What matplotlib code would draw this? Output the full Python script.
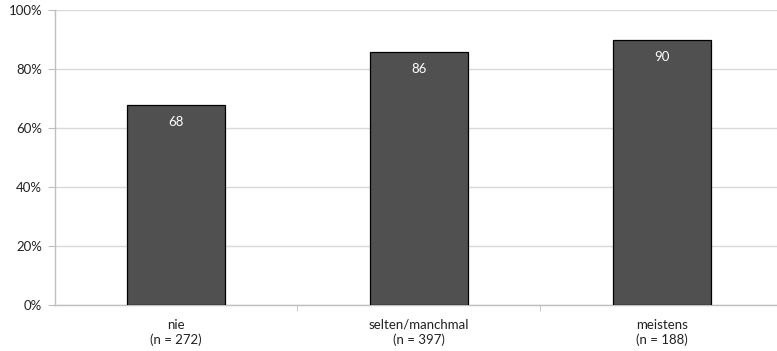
import matplotlib
matplotlib.use("Agg")
import matplotlib.pyplot as plt
from matplotlib.ticker import FixedLocator, PercentFormatter

categories = ["nie\n(n = 272)", "selten/manchmal\n(n = 397)", "meistens\n(n = 188)"]
values = [68, 86, 90]
yticks = [0, 20, 40, 60, 80, 100]

plt.rcParams['font.family'] = ['Lato', 'DejaVu Sans']

fig = plt.figure(figsize=(7.77, 3.51), dpi=100)
left = 54.6 / 777
right = 783 / 777
bottom = (351 - 305) / 351
top = (351 - 10.5) / 351
ax = fig.add_axes([left, bottom, right - left, top - bottom])

x = list(range(len(categories)))
bars = ax.bar(x, values, width=0.404, color="#505050", edgecolor="black", linewidth=0.9, zorder=3)
for xi, v in zip(x, values):
    ax.annotate(f"{v}", (xi, v), xytext=(0, -17), textcoords="offset pixels",
                ha="center", va="center", color="white", fontsize=9.5, zorder=4)

ax.set_xlim(-0.5, len(categories) - 0.5)
ax.set_ylim(0, 100)
ax.set_yticks(yticks)
ax.yaxis.set_major_formatter(PercentFormatter(decimals=0))
ax.grid(axis="y", color="#d9d9d9", linewidth=1, zorder=0)
ax.set_xticks(x)
ax.set_xticklabels(categories, fontsize=9.5, color="#222222", linespacing=1.2)
ax.xaxis.set_minor_locator(FixedLocator([0.5, 1.5]))
ax.tick_params(axis="x", which="major", length=0, pad=10)
ax.tick_params(axis="x", which="minor", length=4, color="#bfbfbf", direction="out")
ax.tick_params(axis="y", length=5, color="#bfbfbf", labelsize=9.5, labelcolor="#222222", pad=4)
for s in ["top", "right"]:
    ax.spines[s].set_visible(False)
for s in ["left", "bottom"]:
    ax.spines[s].set_color("#bfbfbf")
    ax.spines[s].set_linewidth(1)

fig.savefig("out.png", dpi=100)
